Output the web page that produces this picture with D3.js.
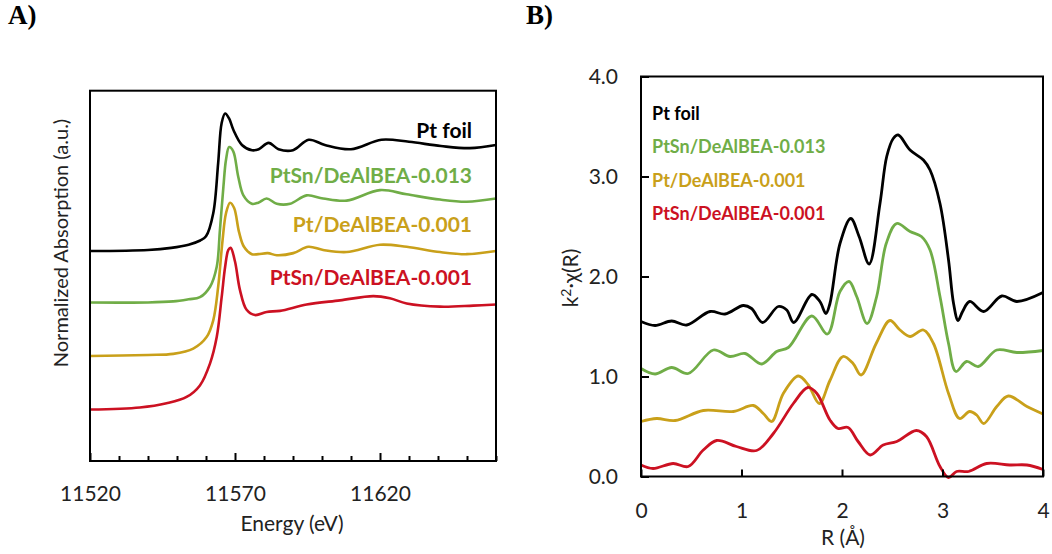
<!DOCTYPE html>
<html>
<head>
<meta charset="utf-8">
<script src="https://cdn.jsdelivr.net/npm/d3@7"></script>
<style>
body { margin: 0; background: #fff; }
svg { display: block; }
</style>
</head>
<body>
<div id="chart"></div>
<script>
'use strict'

// A) XANES, energy (eV) vs normalized absorption (curves stacked by 0.5)
var xanesFoil = [[11520,2.00],[11540,2.01],[11548,2.03],[11554,2.06],[11558,2.10],[11560,2.14],[11562.5,2.36],[11564.2,2.84],[11565.4,3.22],[11566.6,3.31],[11568,3.26],[11569.5,3.15],[11572.4,3.01],[11575.9,2.96],[11578.2,2.97],[11581.6,3.03],[11585,2.97],[11590,2.96],[11595.4,3.06],[11601,3.01],[11610,2.97],[11620.5,3.06],[11630,3.04],[11641,3.00],[11651,2.98],[11660,3.01]];
var xanesPtSn013 = [[11520,1.51],[11540,1.51],[11548.7,1.52],[11554,1.54],[11557.9,1.56],[11561.4,1.66],[11563.7,1.85],[11564.8,2.20],[11566,2.61],[11566.9,2.87],[11568,2.99],[11569.4,2.95],[11571.1,2.71],[11572.9,2.53],[11575.8,2.45],[11578,2.46],[11580.9,2.50],[11584.4,2.45],[11589,2.45],[11594.7,2.53],[11600.4,2.50],[11608.5,2.48],[11620,2.58],[11629.2,2.54],[11640.7,2.49],[11649.9,2.47],[11660,2.50]];
var xanesPt001 = [[11520,1.00],[11540,1.01],[11548.7,1.02],[11555.6,1.07],[11560.2,1.18],[11562.5,1.34],[11564.2,1.66],[11565.7,2.10],[11566.9,2.36],[11568.3,2.46],[11569.7,2.41],[11571.4,2.18],[11573.1,2.04],[11575.8,1.97],[11578,1.97],[11581.3,1.98],[11584.4,1.96],[11590.1,1.98],[11595.3,2.04],[11600.4,2.01],[11608.5,1.99],[11620,2.06],[11629.2,2.04],[11640.7,1.99],[11649.9,1.97],[11660,2.00]];
var xanesPtSn001 = [[11520,0.49],[11537.2,0.51],[11546.4,0.55],[11553.3,0.61],[11557.9,0.72],[11561.4,0.93],[11563.7,1.18],[11565.4,1.56],[11566.6,1.85],[11567.7,2.01],[11568.5,2.03],[11570,1.90],[11571.7,1.63],[11574,1.44],[11576.9,1.39],[11580.9,1.42],[11585.5,1.43],[11594.7,1.49],[11606.2,1.53],[11617.7,1.57],[11623.4,1.55],[11629.2,1.50],[11640.7,1.47],[11652.2,1.48],[11660,1.49]];

// B) FT-EXAFS, R (A) vs k2*chi(R)
var ftFoil = [[0,1.55],[0.14,1.51],[0.305,1.555],[0.455,1.515],[0.687,1.65],[0.836,1.625],[1.018,1.71],[1.10,1.68],[1.21,1.54],[1.366,1.70],[1.45,1.665],[1.52,1.54],[1.70,1.82],[1.78,1.75],[1.84,1.63],[1.88,1.73],[1.98,2.33],[2.087,2.58],[2.17,2.40],[2.27,2.125],[2.378,2.73],[2.445,3.20],[2.51,3.38],[2.56,3.415],[2.677,3.265],[2.81,3.165],[2.876,3.065],[2.975,2.73],[3.06,2.165],[3.11,1.73],[3.155,1.56],[3.20,1.65],[3.27,1.75],[3.41,1.65],[3.59,1.805],[3.74,1.75],[4.0,1.84]];
var ftPtSn013 = [[0,1.08],[0.14,1.025],[0.305,1.09],[0.47,1.03],[0.72,1.265],[0.886,1.20],[1.035,1.23],[1.20,1.125],[1.35,1.25],[1.466,1.29],[1.70,1.605],[1.855,1.425],[1.98,1.85],[2.07,1.95],[2.146,1.80],[2.25,1.53],[2.345,1.80],[2.44,2.33],[2.544,2.53],[2.677,2.45],[2.79,2.40],[2.876,2.265],[2.975,1.80],[3.06,1.33],[3.134,1.05],[3.24,1.15],[3.356,1.10],[3.54,1.265],[3.74,1.24],[4.0,1.26]];
var ftPt001 = [[0,0.55],[0.156,0.58],[0.34,0.56],[0.62,0.66],[0.92,0.65],[1.117,0.71],[1.217,0.63],[1.30,0.55],[1.416,0.83],[1.565,1.005],[1.665,0.915],[1.775,0.73],[1.88,0.96],[2.01,1.20],[2.11,1.13],[2.19,1.015],[2.34,1.33],[2.477,1.56],[2.577,1.465],[2.677,1.40],[2.81,1.465],[2.91,1.33],[3.06,0.83],[3.17,0.58],[3.27,0.65],[3.34,0.615],[3.41,0.53],[3.54,0.70],[3.655,0.805],[3.84,0.70],[4.0,0.625]];
var ftPtSn001 = [[0,0.115],[0.12,0.08],[0.32,0.13],[0.47,0.10],[0.62,0.265],[0.753,0.36],[0.95,0.30],[1.15,0.26],[1.317,0.43],[1.516,0.73],[1.66,0.89],[1.75,0.83],[1.88,0.565],[1.96,0.48],[2.06,0.49],[2.16,0.35],[2.28,0.215],[2.41,0.315],[2.545,0.35],[2.74,0.46],[2.84,0.40],[2.975,0.10],[3.06,-0.01],[3.14,0.05],[3.26,0.05],[3.44,0.13],[3.67,0.115],[3.84,0.115],[4.0,0.07]];

var sampleNames = ["Pt foil", "PtSn/DeAlBEA-0.013", "Pt/DeAlBEA-0.001", "PtSn/DeAlBEA-0.001"];
var sampleColors = ["#000000", "#70ad47", "#c9a01a", "#cc1122"];
var xanesSeries = [xanesFoil, xanesPtSn013, xanesPt001, xanesPtSn001];
var ftSeries = [ftFoil, ftPtSn013, ftPt001, ftPtSn001];

var energyTicks = d3.range(11520, 11661, 10);
var energyLabels = [11520, 11570, 11620];
var rTicks = [0, 1, 2, 3, 4];
var chiTicks = [0, 1, 2, 3, 4];

var font = "Lato, 'Open Sans', sans-serif";

var svg = d3.select("#chart").append("svg").attr("width", 1052).attr("height", 554);

// panel letters
svg.append("text").attr("x", 8).attr("y", 24).text("A)")
    .style("font-family", "'Liberation Serif', serif").style("font-weight", "bold").style("font-size", "27px");
svg.append("text").attr("x", 526).attr("y", 24).text("B)")
    .style("font-family", "'Liberation Serif', serif").style("font-weight", "bold").style("font-size", "27px");

// ---------- panel A ----------
var xA = d3.scaleLinear().domain([11520, 11660]).range([90, 496]);
var yA = d3.scaleLinear().domain([0, 3.527]).range([461, 90.7]);

var lineA = d3.line()
    .x(function(d) { return xA(d[0]); })
    .y(function(d) { return yA(d[1]); })
    .curve(d3.curveCatmullRom.alpha(0.5));

svg.append("g").selectAll("path").data(xanesSeries).enter().append("path")
    .attr("d", lineA)
    .attr("fill", "none")
    .attr("stroke", function(d, i) { return sampleColors[i]; })
    .attr("stroke-width", 2.6);

var axA = svg.append("g").attr("transform", "translate(0,461)")
    .call(d3.axisBottom(xA).tickValues(energyTicks).tickSizeInner(-5).tickSizeOuter(0).tickPadding(25)
        .tickFormat(function(d) { return energyLabels.indexOf(d) >= 0 ? d : ""; }));
axA.select(".domain").remove();
axA.selectAll(".tick line").attr("stroke-width", 2)
    .attr("y2", function(d) { return energyLabels.indexOf(d) >= 0 ? -8 : -5; });
axA.selectAll(".tick text").style("font-family", font).style("font-size", "21px").attr("fill", "#222");

svg.append("rect").attr("x", xA(11520)).attr("y", yA(3.527))
    .attr("width", xA(11660) - xA(11520)).attr("height", yA(0) - yA(3.527))
    .attr("fill", "none").attr("stroke", "#000").attr("stroke-width", 2);

svg.append("text").attr("x", 292).attr("y", 531).attr("text-anchor", "middle")
    .text("Energy (eV)").style("font-family", font).style("font-size", "21px").attr("fill", "#222");
svg.append("text").attr("transform", "translate(68,243) rotate(-90)").attr("text-anchor", "middle")
    .text("Normalized Absorption (a.u.)").style("font-family", font).style("font-size", "20px").attr("fill", "#222");

var legendAY = [138, 183, 232, 285];
svg.append("g").selectAll("text").data(sampleNames).enter().append("text")
    .attr("x", 472)
    .attr("y", function(d, i) { return legendAY[i]; })
    .attr("text-anchor", "end")
    .attr("fill", function(d, i) { return sampleColors[i]; })
    .style("font-family", font).style("font-weight", "bold").style("font-size", "21px")
    .text(function(d) { return d; });

// ---------- panel B ----------
var xB = d3.scaleLinear().domain([0, 4]).range([641, 1043]);
var yB = d3.scaleLinear().domain([0, 4]).range([476.5, 76.5]);

var lineB = d3.line()
    .x(function(d) { return xB(d[0]); })
    .y(function(d) { return yB(d[1]); })
    .curve(d3.curveCatmullRom.alpha(0.5));

svg.append("g").selectAll("path").data(ftSeries).enter().append("path")
    .attr("d", lineB)
    .attr("fill", "none")
    .attr("stroke", function(d, i) { return sampleColors[i]; })
    .attr("stroke-width", 2.8);

var axBx = svg.append("g").attr("transform", "translate(0,476.5)")
    .call(d3.axisBottom(xB).tickValues(rTicks).tickSizeInner(-7).tickSizeOuter(0).tickPadding(27).tickFormat(d3.format("d")));
axBx.select(".domain").remove();
axBx.selectAll(".tick line").attr("stroke-width", 2);
axBx.selectAll(".tick text").style("font-family", font).style("font-size", "21px").attr("fill", "#222");

var axBy = svg.append("g").attr("transform", "translate(641,0)")
    .call(d3.axisLeft(yB).tickValues(chiTicks).tickSizeInner(-8).tickSizeOuter(0).tickPadding(23).tickFormat(d3.format(".1f")));
axBy.select(".domain").remove();
axBy.selectAll(".tick line").attr("stroke-width", 2);
axBy.selectAll(".tick text").style("font-family", font).style("font-size", "21px").attr("fill", "#222");

svg.append("rect").attr("x", xB(0)).attr("y", yB(4))
    .attr("width", xB(4) - xB(0)).attr("height", yB(0) - yB(4))
    .attr("fill", "none").attr("stroke", "#000").attr("stroke-width", 2);

svg.append("text").attr("x", 843).attr("y", 545).attr("text-anchor", "middle")
    .text("R (Å)").style("font-family", font).style("font-size", "21px").attr("fill", "#222");

var yLabB = svg.append("text").attr("transform", "translate(578,278) rotate(-90)").attr("text-anchor", "middle")
    .style("font-family", font).style("font-size", "21px").attr("fill", "#222");
yLabB.append("tspan").text("k");
yLabB.append("tspan").attr("dy", -7).style("font-size", "14px").text("2");
yLabB.append("tspan").attr("dy", 7).text("·χ(R)");

var legendBY = [120, 153, 187, 220];
svg.append("g").selectAll("text").data(sampleNames).enter().append("text")
    .attr("x", 652)
    .attr("y", function(d, i) { return legendBY[i]; })
    .attr("fill", function(d, i) { return sampleColors[i]; })
    .style("font-family", font).style("font-weight", "bold").style("font-size", "18px")
    .text(function(d) { return d; });
</script>
</body>
</html>
